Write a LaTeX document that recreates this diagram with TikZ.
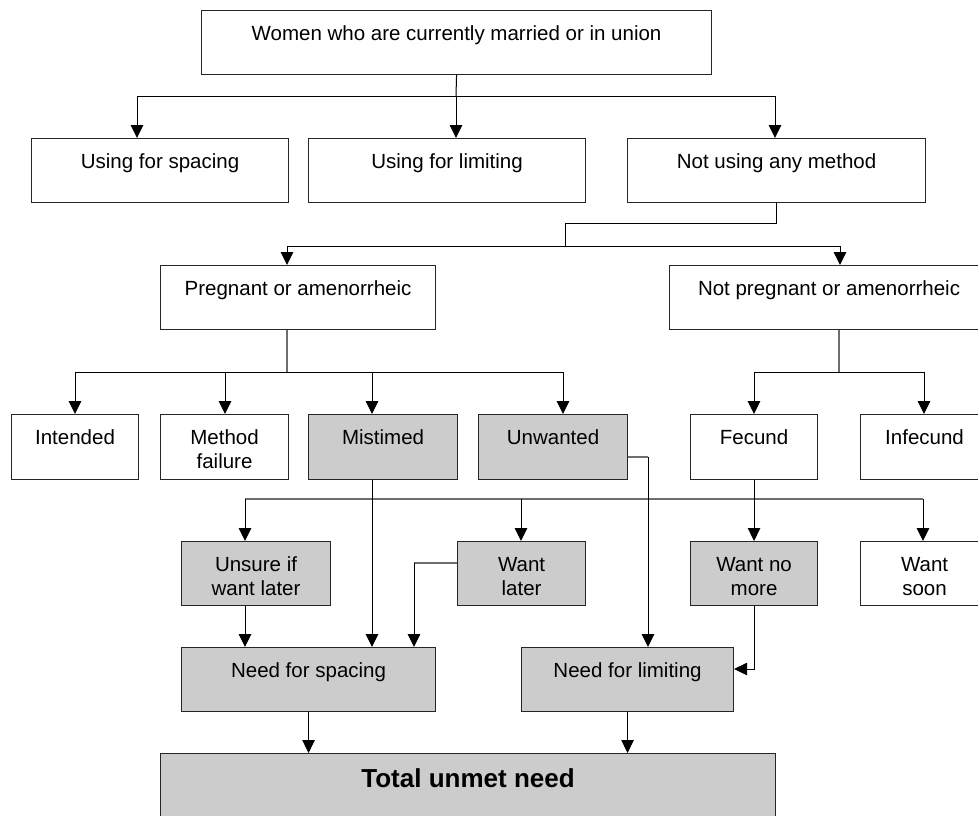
\documentclass[tikz,border=0pt]{standalone}
\usepackage{fontspec}
\setmainfont{Liberation Sans}
\usetikzlibrary{arrows.meta}
\definecolor{boxgray}{RGB}{204,204,204}
\definecolor{linegray}{RGB}{110,110,110}
\newcommand\bt[3]{\parbox[t][#2pt][t]{#1pt}{\centering\rule{0pt}{30pt}#3}}
\newcommand\btb[3]{\parbox[t][#2pt][t]{#1pt}{\centering\rule{0pt}{34pt}#3}}
\tikzset{
  wbox/.style={draw=black!85, line width=1.1pt, fill=white, inner sep=0pt, anchor=north west,
    font=\fontsize{20.5}{24}\selectfont},
  gbox/.style={wbox, fill=boxgray},
  ln/.style={draw=black, line width=1pt},
  lng/.style={draw=linegray, line width=1.2pt},
  arr/.style={ln, -{Triangle[width=12.5pt,length=13pt]}},
}
\begin{document}
\begin{tikzpicture}[x=1pt,y=-1pt]
\useasboundingbox (0,0) rectangle (978,815);
\clip (0,0) rectangle (978,815);
\fill[white] (0,0) rectangle (978,815);

% boxes
\node[wbox] (top) at (201,10) {\bt{510}{64}{Women who are currently married or in union}};
\node[wbox] (usesp) at (31,138) {\bt{257}{64}{Using for spacing}};
\node[wbox] (uselim) at (308,138) {\bt{277}{64}{Using for limiting}};
\node[wbox] (notuse) at (627,138) {\bt{298}{64}{Not using any method}};
\node[wbox] (preg) at (160,265) {\bt{275}{64}{Pregnant or amenorrheic}};
\node[wbox] (npreg) at (669,265) {\bt{319}{64}{Not pregnant or amenorrheic}};
\node[wbox] (intend) at (11,414) {\bt{127}{65}{Intended}};
\node[wbox] (mfail) at (160,414) {\bt{128}{65}{Method\\failure}};
\node[gbox] (mistimed) at (308,414) {\bt{149}{65}{Mistimed}};
\node[gbox] (unwanted) at (478,414) {\bt{149}{65}{Unwanted}};
\node[wbox] (fecund) at (690,414) {\bt{127}{65}{Fecund}};
\node[wbox] (infecund) at (860,414) {\bt{128}{65}{Infecund}};
\node[gbox] (unsure) at (181,541) {\bt{149}{64}{Unsure if\\want later}};
\node[gbox] (wantlater) at (457,541) {\bt{128}{64}{Want\\later}};
\node[gbox] (wantnomore) at (690,541) {\bt{127}{64}{Want no\\more}};
\node[wbox] (wantsoon) at (860,541) {\bt{128}{64}{Want\\soon}};
\node[gbox] (needsp) at (181,647) {\bt{254}{64}{Need for spacing}};
\node[gbox] (needlim) at (521,647) {\bt{212}{64}{Need for limiting}};
\node[gbox, font=\fontsize{26}{30}\selectfont\bfseries] (total) at (160,753) {\btb{615}{90}{Total unmet need}};

% level 1
\coordinate (j1) at (456,96);
\coordinate (b1l) at (137,96);
\coordinate (b1r) at (775,96);
\draw[ln] (top.south) -- (j1);
\draw[ln] (b1l) -- (b1r);
\draw[arr] (b1l) -- (b1l |- usesp.north);
\draw[arr] (j1) -- (j1 |- uselim.north);
\draw[arr] (b1r) -- (b1r |- notuse.north);

% level 2
\coordinate (k2) at (565,223);
\coordinate (j2) at (565,246);
\coordinate (b2l) at (287,246);
\coordinate (b2r) at (840,246);
\draw[ln] (notuse.south) |- (k2) -- (j2);
\draw[ln] (b2l) -- (b2r);
\draw[arr] (b2l) -- (b2l |- preg.north);
\draw[arr] (b2r) -- (b2r |- npreg.north);

% level 3 (pregnant)
\coordinate (j3) at (287,372);
\coordinate (b3a) at (75,372);
\coordinate (b3b) at (225,372);
\coordinate (b3c) at (372,372);
\coordinate (b3d) at (563,372);
\draw[lng] (j3 |- preg.south) -- (j3);
\draw[ln] (b3a) -- (b3d);
\draw[arr] (b3a) -- (b3a |- intend.north);
\draw[arr] (b3b) -- (b3b |- mfail.north);
\draw[arr] (b3c) -- (b3c |- mistimed.north);
\draw[arr] (b3d) -- (b3d |- unwanted.north);

% level 3 (not pregnant)
\coordinate (j3r) at (839,372);
\coordinate (b3e) at (754,372);
\coordinate (b3f) at (924,372);
\draw[lng] (j3r |- npreg.south) -- (j3r);
\draw[ln] (b3e) -- (b3f);
\draw[arr] (b3e) -- (b3e |- fecund.north);
\draw[arr] (b3f) -- (b3f |- infecund.north);

% level 4
\coordinate (b4a) at (245,499);
\coordinate (b4b) at (521,499);
\coordinate (b4d) at (923,499);
\draw[lng] (b4a) -- (b4d);
\draw[arr] (fecund.south) -- (wantnomore.north);
\draw[arr] (b4a) -- (b4a |- unsure.north);
\draw[arr] (b4b) -- (b4b |- wantlater.north);
\draw[arr] (b4d) -- (b4d |- wantsoon.north);

% mistimed and unwanted long connectors
\draw[arr] (mistimed.south -| b3c) -- (needsp.north -| b3c);
\coordinate (u1) at (648,457);
\draw[lng] (unwanted.east |- u1) -- (u1);
\draw[arr] (u1) -- (u1 |- needlim.north);

% level 5
\draw[arr] (unsure.south -| b4a) -- (needsp.north -| b4a);
\coordinate (w1) at (414,563);
\draw[lng] (wantlater.west |- w1) -- (w1);
\draw[arr] (w1) -- (w1 |- needsp.north);
\coordinate (w2) at (754,669);
\draw[arr] (wantnomore.south) -- (wantnomore.south |- w2) -- (needlim.east |- w2);

% level 6
\draw[arr] (needsp.south) -- (needsp.south |- total.north);
\draw[arr] (needlim.south) -- (needlim.south |- total.north);
\end{tikzpicture}
\end{document}
